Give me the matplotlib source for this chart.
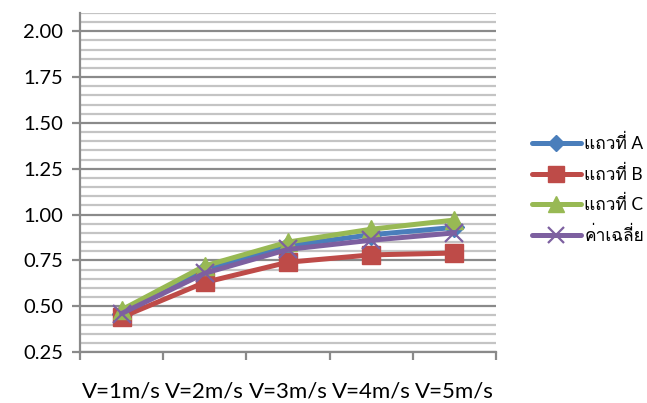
import matplotlib
matplotlib.use("Agg")
import matplotlib.pyplot as plt
from matplotlib.ticker import MultipleLocator
from matplotlib import font_manager

categories = ["V=1m/s", "V=2m/s", "V=3m/s", "V=4m/s", "V=5m/s"]
row_a = [0.46, 0.70, 0.83, 0.89, 0.93]
row_b = [0.44, 0.63, 0.74, 0.78, 0.79]
row_c = [0.48, 0.72, 0.85, 0.92, 0.97]
average = [0.46, 0.68, 0.81, 0.86, 0.90]
series_labels = ["แถวที่ A", "แถวที่ B", "แถวที่ C", "ค่าเฉลี่ย"]
y_ticks = [0.25, 0.50, 0.75, 1.00, 1.25, 1.50, 1.75, 2.00]

# families that can draw Thai text, used as fallbacks after the main font
thai_families = []
for f in font_manager.fontManager.ttflist:
    if "thai" in f.name.lower() or f.name in ("Loma", "Garuda", "Norasi", "Kinnari", "Waree", "Sawasdee", "Umpush", "Tlwg Typo"):
        if f.name not in thai_families:
            thai_families.append(f.name)

base_font = "Lato"
plt.rcParams["font.family"] = [base_font] + thai_families + ["DejaVu Sans"]

fig = plt.figure(figsize=(6.47, 4.03), dpi=100)
ax = fig.add_axes([80 / 647, 1 - 352 / 403, (496 - 80) / 647, (352 - 13) / 403])

x = list(range(len(categories)))
colors = ["#4A7EBB", "#BE4B48", "#98B954", "#7D60A0"]
markers = ["D", "s", "^", "x"]
sizes = [10, 13, 13, 13]
series = [row_a, row_b, row_c, average]

handles = []
for vals, col, mk, ms, lab in zip(series, colors, markers, sizes, series_labels):
    if mk == "x":
        h, = ax.plot(x, vals, color=col, lw=3.6, marker=mk, ms=ms, mew=1.6,
                     solid_capstyle="round", label=lab, zorder=3)
    else:
        h, = ax.plot(x, vals, color=col, lw=3.6, marker=mk, ms=ms, mec=col, mfc=col,
                     solid_capstyle="round", label=lab, zorder=3)
    handles.append(h)

ax.set_xlim(-0.5, len(categories) - 0.5)
ax.set_ylim(0.25, 2.10)
ax.yaxis.set_minor_locator(MultipleLocator(0.05))
ax.set_yticks(y_ticks)
ax.set_yticklabels([f"{v:.2f}" for v in y_ticks])
ax.grid(which="major", axis="y", color="#8A8A8A", lw=1.6, zorder=0)
ax.grid(which="minor", axis="y", color="#C4C4C4", lw=1.6, zorder=0)
ax.set_axisbelow(True)

ax.set_xticks(x)
ax.set_xticklabels(categories)
ax.set_xticks([i - 0.5 for i in range(len(categories) + 1)], minor=True)
ax.tick_params(axis="x", which="major", length=0, pad=21, labelsize=16, colors="black")
ax.tick_params(axis="x", which="minor", length=6, width=1.6, color="#8A8A8A", direction="out")
ax.tick_params(axis="y", which="major", length=6, width=1.6, color="#8A8A8A", labelsize=14.5, pad=6)
ax.tick_params(axis="y", which="minor", length=0)

for side in ("top", "right"):
    ax.spines[side].set_visible(False)
for side in ("left", "bottom"):
    ax.spines[side].set_color("#8A8A8A")
    ax.spines[side].set_linewidth(1.6)

fig.legend(handles=handles, labels=series_labels, loc="center right",
           bbox_to_anchor=(644 / 647, 1 - 189 / 403), frameon=False,
           fontsize=12.5, handlelength=2.8, handletextpad=0.2,
           labelspacing=0.72, markerscale=0.85, borderaxespad=0, borderpad=0)

fig.savefig("out.png", dpi=100)
